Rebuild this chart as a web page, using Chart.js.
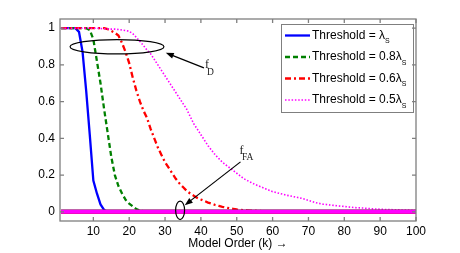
<!DOCTYPE html>
<html>
<head>
<meta charset="utf-8">
<script src="https://cdn.jsdelivr.net/npm/chart.js@4/dist/chart.umd.min.js"></script>
<style>
  html, body { margin: 0; padding: 0; background: #fff; }
  canvas { display: block; }
</style>
</head>
<body>
<canvas id="pdChart" width="460" height="253"></canvas>
<script>
// model order k = 1..100 (sample index)
const modelOrder = Array.from({ length: 100 }, (_, i) => i + 1);
const xTicks = [10, 20, 30, 40, 50, 60, 70, 80, 90, 100];
const yTicks = [0, 0.2, 0.4, 0.6, 0.8, 1];

// detection probability f_D
const pdLambda = [
  1, 1, 1, 1, 1, 0.98, 0.87, 0.66, 0.42, 0.17,
  0.1, 0.04, 0.01, 0, 0, 0, 0, 0, 0, 0,
  0, 0, 0, 0, 0, 0, 0, 0, 0, 0,
  0, 0, 0, 0, 0, 0, 0, 0, 0, 0,
  0, 0, 0, 0, 0, 0, 0, 0, 0, 0,
  0, 0, 0, 0, 0, 0, 0, 0, 0, 0,
  0, 0, 0, 0, 0, 0, 0, 0, 0, 0,
  0, 0, 0, 0, 0, 0, 0, 0, 0, 0,
  0, 0, 0, 0, 0, 0, 0, 0, 0, 0,
  0, 0, 0, 0, 0, 0, 0, 0, 0, 0
];
const pd08Lambda = [
  1, 1, 1, 1, 1, 1, 1, 1, 0.99, 0.94,
  0.82, 0.7, 0.56, 0.43, 0.3, 0.2, 0.14, 0.1, 0.065, 0.045,
  0.03, 0.015, 0.007, 0.003, 0, 0, 0, 0, 0, 0,
  0, 0, 0, 0, 0, 0, 0, 0, 0, 0,
  0, 0, 0, 0, 0, 0, 0, 0, 0, 0,
  0, 0, 0, 0, 0, 0, 0, 0, 0, 0,
  0, 0, 0, 0, 0, 0, 0, 0, 0, 0,
  0, 0, 0, 0, 0, 0, 0, 0, 0, 0,
  0, 0, 0, 0, 0, 0, 0, 0, 0, 0,
  0, 0, 0, 0, 0, 0, 0, 0, 0, 0
];
const pd06Lambda = [
  1, 1, 1, 1, 1, 1, 1, 1, 1, 1,
  1, 1, 1, 0.995, 0.985, 0.975, 0.96, 0.92, 0.87, 0.81,
  0.73, 0.66, 0.6, 0.55, 0.51, 0.45, 0.4, 0.35, 0.31, 0.27,
  0.24, 0.21, 0.18, 0.155, 0.135, 0.115, 0.1, 0.088, 0.076, 0.067,
  0.059, 0.05, 0.044, 0.037, 0.032, 0.027, 0.023, 0.019, 0.016, 0.013,
  0.011, 0.009, 0.008, 0.007, 0.006, 0.005, 0.004, 0.003, 0.002, 0.001,
  0, 0, 0, 0, 0, 0, 0, 0, 0, 0,
  0, 0, 0, 0, 0, 0, 0, 0, 0, 0,
  0, 0, 0, 0, 0, 0, 0, 0, 0, 0,
  0, 0, 0, 0, 0, 0, 0, 0, 0, 0
];
const pd05Lambda = [
  1, 1, 1, 1, 1, 1, 1, 1, 1, 1,
  1, 0.998, 0.997, 0.996, 0.995, 0.995, 0.993, 0.99, 0.987, 0.983,
  0.97, 0.95, 0.928, 0.905, 0.88, 0.86, 0.83, 0.8, 0.77, 0.74,
  0.71, 0.68, 0.65, 0.62, 0.59, 0.56, 0.52, 0.48, 0.45, 0.42,
  0.39, 0.36, 0.335, 0.31, 0.29, 0.27, 0.255, 0.24, 0.225, 0.21,
  0.195, 0.18, 0.17, 0.16, 0.15, 0.142, 0.134, 0.126, 0.118, 0.11,
  0.105, 0.1, 0.095, 0.09, 0.086, 0.082, 0.078, 0.074, 0.068, 0.062,
  0.056, 0.05, 0.046, 0.042, 0.04, 0.037, 0.035, 0.033, 0.031, 0.029,
  0.027, 0.025, 0.023, 0.022, 0.021, 0.019, 0.018, 0.016, 0.015, 0.014,
  0.013, 0.012, 0.012, 0.011, 0.011, 0.01, 0.009, 0.009, 0.008, 0.008
];
// false alarm probability f_FA (all thresholds sit on zero)
const falseAlarm = [
  0, 0, 0, 0, 0, 0, 0, 0, 0, 0,
  0, 0, 0, 0, 0, 0, 0, 0, 0, 0,
  0, 0, 0, 0, 0, 0, 0, 0, 0, 0,
  0, 0, 0, 0, 0, 0, 0, 0, 0, 0,
  0, 0, 0, 0, 0, 0, 0, 0, 0, 0,
  0, 0, 0, 0, 0, 0, 0, 0, 0, 0,
  0, 0, 0, 0, 0, 0, 0, 0, 0, 0,
  0, 0, 0, 0, 0, 0, 0, 0, 0, 0,
  0, 0, 0, 0, 0, 0, 0, 0, 0, 0,
  0, 0, 0, 0, 0, 0, 0, 0, 0, 0
];
const legendLabels = ['Threshold = \u03bb', 'Threshold = 0.8\u03bb', 'Threshold = 0.6\u03bb', 'Threshold = 0.5\u03bb'];

const SANS = '"Liberation Sans", Arial, sans-serif';
const SERIF = '"Liberation Serif", "Times New Roman", serif';
const AXIS_GRAY = '#7f7f7f';

const toPoints = (vals) => vals.map((v, i) => ({ x: modelOrder[i], y: v }));

const styles = [
  { color: '#0000ff', width: 2.3, dash: [] },
  { color: '#008000', width: 2.3, dash: [5, 3] },
  { color: '#ff0000', width: 2.3, dash: [6, 3, 2, 3] },
  { color: '#ff00ff', width: 1.6, dash: [1.5, 1.8] }
];
const pdSeries = [pdLambda, pd08Lambda, pd06Lambda, pd05Lambda];

const datasets = [];
pdSeries.forEach((vals, i) => {
  datasets.push({
    label: legendLabels[i], data: toPoints(vals),
    borderColor: styles[i].color, borderWidth: styles[i].width, borderDash: styles[i].dash,
    pointRadius: 0, tension: 0, fill: false, order: 10 - i
  });
});
// f_FA curves, magenta ends up on top
['#0000ff', '#008000', '#ff0000', '#ff00ff'].forEach((c, i) => {
  datasets.push({
    label: 'fa' + i, data: toPoints(falseAlarm),
    borderColor: c, borderWidth: 4, pointRadius: 0, tension: 0, fill: false, order: 4 - i
  });
});

// annotation spots, in data units
const fdEllipse = { k: 16.6, v: 0.899, rk: 13.1, rv: 0.039 };
const faEllipse = { k: 34.2, v: 0.008, rk: 1.25, rv: 0.05 };
const fdArrow = { fromK: 40.85, fromV: 0.784, toK: 30.2, toV: 0.866 };
const faArrow = { fromK: 51.05, fromV: 0.272, toK: 35.5, toV: 0.036 };

const drawEllipse = (ctx, xs, ys, e) => {
  const cx = xs.getPixelForValue(e.k), cy = ys.getPixelForValue(e.v);
  const rx = Math.abs(xs.getPixelForValue(e.k + e.rk) - cx);
  const ry = Math.abs(ys.getPixelForValue(e.v + e.rv) - cy);
  ctx.beginPath();
  ctx.ellipse(cx, cy, rx, ry, 0, 0, Math.PI * 2);
  ctx.stroke();
};

const drawArrow = (ctx, xs, ys, a) => {
  const x0 = xs.getPixelForValue(a.fromK), y0 = ys.getPixelForValue(a.fromV);
  const x1 = xs.getPixelForValue(a.toK), y1 = ys.getPixelForValue(a.toV);
  const ang = Math.atan2(y1 - y0, x1 - x0);
  ctx.beginPath();
  ctx.moveTo(x0, y0);
  ctx.lineTo(x1 - 5 * Math.cos(ang), y1 - 5 * Math.sin(ang));
  ctx.stroke();
  ctx.beginPath();
  ctx.moveTo(x1, y1);
  ctx.lineTo(x1 - 8 * Math.cos(ang) + 3 * Math.sin(ang), y1 - 8 * Math.sin(ang) - 3 * Math.cos(ang));
  ctx.lineTo(x1 - 8 * Math.cos(ang) - 3 * Math.sin(ang), y1 - 8 * Math.sin(ang) + 3 * Math.cos(ang));
  ctx.closePath();
  ctx.fill();
  return { x: x0, y: y0 };
};

const overlayPlugin = {
  id: 'overlay',
  afterDatasetsDraw(chart) {
    const { ctx, chartArea: ca, scales: { x: xs, y: ys } } = chart;
    ctx.save();

    /*** annotations ***/
    ctx.strokeStyle = '#000';
    ctx.fillStyle = '#000';
    ctx.lineWidth = 1.2;
    drawEllipse(ctx, xs, ys, fdEllipse);
    drawEllipse(ctx, xs, ys, faEllipse);
    const fdTail = drawArrow(ctx, xs, ys, fdArrow);
    const faTail = drawArrow(ctx, xs, ys, faArrow);

    ctx.textAlign = 'left';
    ctx.textBaseline = 'alphabetic';
    ctx.fillStyle = '#222';
    ctx.font = '12px ' + SERIF;
    ctx.fillText('f', fdTail.x + 1, fdTail.y);
    ctx.fillText('f', faTail.x - 1, faTail.y - 8);
    ctx.font = '9.5px ' + SERIF;
    ctx.fillText('D', fdTail.x + 3, fdTail.y + 7.5);
    ctx.fillText('FA', faTail.x + 1.5, faTail.y - 2);

    /*** legend ***/
    const lx = 281, ly = 24, lw = 132, lh = 88;
    ctx.fillStyle = '#fff';
    ctx.fillRect(lx, ly, lw, lh);
    ctx.strokeStyle = AXIS_GRAY;
    ctx.lineWidth = 1;
    ctx.strokeRect(lx + 0.5, ly + 0.5, lw, lh);
    legendLabels.forEach((txt, i) => {
      const ry = ly + 11.5 + i * 21.5;
      ctx.beginPath();
      ctx.strokeStyle = styles[i].color;
      ctx.lineWidth = styles[i].width;
      ctx.setLineDash(styles[i].dash);
      ctx.moveTo(285, ry);
      ctx.lineTo(310, ry);
      ctx.stroke();
      ctx.setLineDash([]);
      ctx.fillStyle = '#000';
      ctx.font = '12px ' + SANS;
      ctx.textBaseline = 'middle';
      ctx.fillText(txt, 312, ry);
      const w = ctx.measureText(txt).width;
      ctx.font = '7px ' + SANS;
      ctx.fillText('S', 312 + w, ry + 6);
    });

    /*** axes box + inward ticks ***/
    ctx.strokeStyle = AXIS_GRAY;
    ctx.lineWidth = 1.3;
    ctx.strokeRect(ca.left, ca.top, ca.right - ca.left, ca.bottom - ca.top);
    ctx.beginPath();
    xTicks.forEach(t => {
      const px = xs.getPixelForValue(t);
      ctx.moveTo(px, ca.bottom); ctx.lineTo(px, ca.bottom - 4);
      ctx.moveTo(px, ca.top); ctx.lineTo(px, ca.top + 4);
    });
    yTicks.forEach(t => {
      const py = ys.getPixelForValue(t);
      ctx.moveTo(ca.left, py); ctx.lineTo(ca.left + 4, py);
      ctx.moveTo(ca.right, py); ctx.lineTo(ca.right - 4, py);
    });
    ctx.stroke();
    ctx.restore();
  }
};

new Chart(document.getElementById('pdChart').getContext('2d'), {
  type: 'line',
  data: { datasets: datasets },
  options: {
    responsive: false,
    animation: false,
    layout: { padding: { top: 19, right: 44, left: 0, bottom: 0 } },
    plugins: { legend: { display: false }, tooltip: { enabled: false } },
    scales: {
      x: {
        type: 'linear', min: 0.7, max: 100,
        afterBuildTicks: s => { s.ticks = xTicks.map(v => ({ value: v })); },
        afterFit: s => { s.height = 32; },
        grid: { display: false, drawTicks: false },
        border: { display: false },
        ticks: { color: '#000', padding: 3, font: { family: SANS, size: 12 }, maxRotation: 0 },
        title: { display: true, text: 'Model Order (k) \u2192', color: '#000', padding: { top: 0, bottom: 2 }, font: { family: SANS, size: 12 } }
      },
      y: {
        type: 'linear', min: -0.05, max: 1.05,
        afterBuildTicks: s => { s.ticks = yTicks.map(v => ({ value: v })); },
        afterFit: s => { s.width = 60; },
        grid: { display: false, drawTicks: false },
        border: { display: false },
        ticks: { color: '#000', padding: 5, font: { family: SANS, size: 12 }, callback: v => String(Math.round(v * 10) / 10) }
      }
    }
  },
  plugins: [overlayPlugin]
});
</script>
</body>
</html>
